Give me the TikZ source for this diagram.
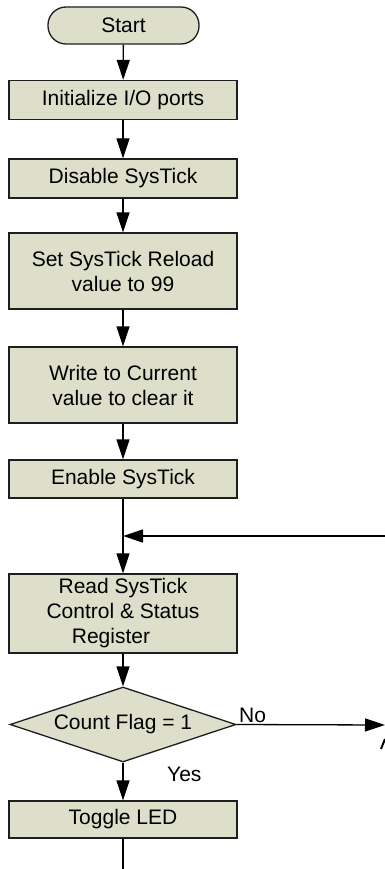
\documentclass[tikz,border=0pt]{standalone}
\usepackage{fontspec}
\setmainfont{Liberation Sans}
\usetikzlibrary{arrows.meta,shapes.geometric}
\definecolor{boxfill}{RGB}{221,223,203}
\definecolor{edge}{RGB}{30,30,30}
\begin{document}
\begin{tikzpicture}[x=1pt,y=-1pt,
  every node/.style={font=\fontsize{21}{25}\selectfont},
  procbox/.style={draw=edge, line width=1.3pt, fill=boxfill, rectangle, minimum width=228pt, inner sep=0pt, align=center},
  termbox/.style={draw=edge, line width=1.3pt, fill=boxfill, rectangle, rounded corners=18pt, minimum width=151pt, minimum height=37pt, inner sep=0pt},
  decbox/.style={draw=edge, line width=1.3pt, fill=boxfill, diamond, aspect=3, minimum width=226pt, minimum height=75pt, inner sep=0pt},
  flow/.style={draw=black, line width=1.3pt, -{Triangle[length=20pt,width=13pt]}},
  plain/.style={draw=black, line width=1.3pt},
  lbl/.style={inner sep=0pt, anchor=base west}
]
\useasboundingbox (0,0) rectangle (385,869);

\node[termbox] (start) at (123.5,25.5) {Start};
\node[procbox, minimum height=39pt] (init) at (123,100) {Initialize I/O ports};
\node[procbox, minimum height=39pt] (dis) at (123,178.5) {Disable SysTick};
\node[procbox, minimum height=76pt] (set) at (123,271) {Set SysTick Reload\\value to 99};
\node[procbox, minimum height=76pt] (wr) at (123,385) {Write to Current\\value to clear it};
\node[procbox, minimum height=38pt] (en) at (123,479) {Enable SysTick};
\node[procbox, minimum height=79pt] (rd) at (123,613.5) {Read SysTick\\Control \& Status\\\hspace*{-24pt}Register};
\node[decbox] (dec) at (123,724.5) {Count Flag = 1};
\node[procbox, minimum height=37pt] (tog) at (123,819.5) {Toggle LED};

\coordinate (join) at (123,536);
\coordinate (fbR) at (386,536);
\coordinate (noR) at (385,725);
\coordinate (endB) at (123,870);

\draw[flow] (start) -- (init);
\draw[flow] (init) -- (dis);
\draw[flow] (dis) -- (set);
\draw[flow] (set) -- (wr);
\draw[flow] (wr) -- (en);
\draw[flow] (en) -- (rd);
\draw[flow] (fbR) -- (join);
\draw[flow] (rd) -- (dec);
\draw[flow] (dec.east) -- (noR);
\draw[flow] (dec) -- (tog);
\draw[plain] (tog) -- (endB);

\node[lbl] (no) at (239,722) {No};
\node[lbl] (yes) at (167,781) {Yes};

\draw[line width=2pt] (381,749) -- (385,739);
\end{tikzpicture}
\end{document}
